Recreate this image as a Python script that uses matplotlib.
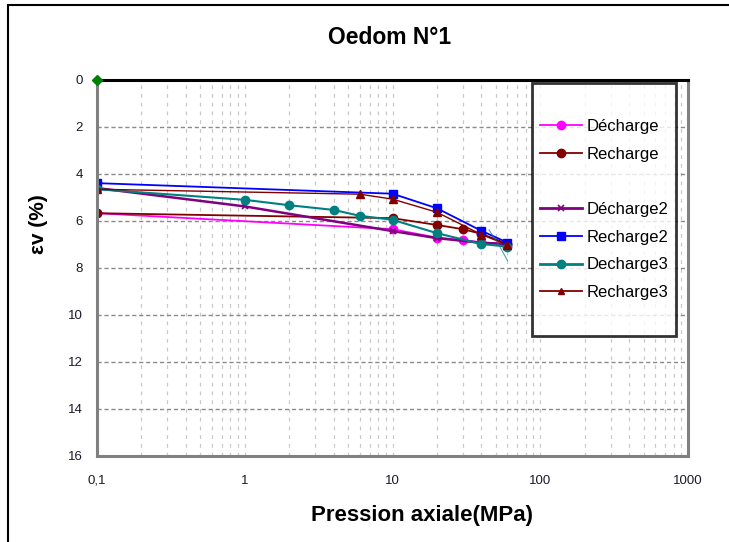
import matplotlib
matplotlib.use("Agg")
import matplotlib.pyplot as plt
from matplotlib.lines import Line2D
from matplotlib.patches import Rectangle
from matplotlib.ticker import LogLocator, NullFormatter

plt.rcParams['font.family'] = ['Liberation Sans', 'DejaVu Sans']

# Data (pressure in MPa, strain in %)
p_decharge = [0.1, 10, 20, 30, 40, 60]
ev_decharge = [5.69, 6.37, 6.73, 6.83, 6.93, 7.0]

p_recharge = [0.1, 10, 20, 30, 40, 60]
ev_recharge = [5.69, 5.9, 6.19, 6.37, 6.57, 7.0]

p_decharge2 = [0.1, 1, 10, 20, 40, 60]
ev_decharge2 = [4.62, 5.4, 6.45, 6.75, 6.95, 7.0]

p_recharge2 = [0.1, 10, 20, 40, 60]
ev_recharge2 = [4.41, 4.86, 5.48, 6.44, 6.94]

p_decharge3 = [0.1, 1, 2, 4, 6, 10, 20, 40, 60]
ev_decharge3 = [4.67, 5.12, 5.35, 5.55, 5.8, 5.97, 6.54, 7.0, 7.11]

p_recharge3 = [0.1, 6, 10, 20, 40, 60]
ev_recharge3 = [4.67, 4.88, 5.09, 5.65, 6.6, 7.04]

# stray unlabeled series
p_green = [0.1]
ev_green = [0.0]
p_stray = [45, 52, 60]
ev_stray = [6.4, 7.0, 7.7]

x_ticks = [0.1, 1, 10, 100, 1000]
x_labels = ['0,1', '1', '10', '100', '1000']
y_ticks = [0, 2, 4, 6, 8, 10, 12, 14, 16]

fig = plt.figure(figsize=(7.29, 5.42), dpi=100)
ax = fig.add_axes([97/729, 1 - 455.5/542, (688-97)/729, (455.5-79.5)/542])

ax.set_xscale('log')
ax.set_xlim(0.1, 1000)
ax.set_ylim(16, 0)

# grid
ax.xaxis.set_minor_locator(LogLocator(base=10, subs=range(2, 10)))
ax.xaxis.set_minor_formatter(NullFormatter())
ax.grid(True, which='both', axis='x', color='#c8c8c8', linestyle=(0, (3, 4)), linewidth=0.9)
ax.grid(True, which='major', axis='y', color='#8a8a8a', linestyle=(0, (3, 2)), linewidth=1.0)
ax.set_axisbelow(True)

ax.plot(p_decharge, ev_decharge, color='#FF00FF', marker='o', ms=6, lw=1.3)
ax.plot(p_recharge, ev_recharge, color='#800000', marker='o', ms=6, lw=1.3)
ax.plot(p_decharge2, ev_decharge2, color='#800080', marker='x', ms=5, mew=1.2, lw=1.8)
ax.plot(p_recharge2, ev_recharge2, color='#0000FF', marker='s', ms=5.5, lw=1.3)
ax.plot(p_decharge3, ev_decharge3, color='#008080', marker='o', ms=6, lw=1.5)
ax.plot(p_recharge3, ev_recharge3, color='#800000', marker='^', ms=5.5, lw=1.0)
ax.plot(p_green, ev_green, color='#008000', marker='D', ms=5, clip_on=False, zorder=5)
ax.plot(p_stray, ev_stray, color='#008080', lw=0.8, alpha=0.7)

# ticks
ax.set_xticks(x_ticks)
ax.set_xticklabels(x_labels)
ax.set_yticks(y_ticks)
ax.tick_params(axis='x', which='both', length=0, pad=14, labelsize=9.5, labelcolor='#1a1a2a')
ax.tick_params(axis='y', which='both', length=0, pad=10, labelsize=9.5, labelcolor='#1a1a2a')

for side in ['left', 'right', 'bottom']:
    ax.spines[side].set_color('#808080')
    ax.spines[side].set_linewidth(2.2)
ax.spines['top'].set_color('black')
ax.spines['top'].set_linewidth(2.2)

# axis titles and chart title placed where the original has them
fig.text(422/729, 1 - 515/542, 'Pression axiale(MPa)', ha='center', va='center',
         fontsize=16, fontweight='bold')
fig.text(38/729, 1 - 224/542, 'εv (%)', ha='center', va='center', rotation=90,
         fontsize=15, fontweight='bold')
fig.text(390/729, 1 - 38/542, 'Oedom N°1', ha='center', va='center', fontsize=16.5, fontweight='bold')

# legend, with blank rows as in the original
def blank():
    return Line2D([], [], color='none', label=' ')

handles = [
    blank(),
    Line2D([], [], color='#FF00FF', marker='o', ms=6, lw=1.3, label='Décharge'),
    Line2D([], [], color='#800000', marker='o', ms=6, lw=1.3, label='Recharge'),
    blank(),
    Line2D([], [], color='#800080', marker='x', ms=5, mew=1.2, lw=2.0, label='Décharge2'),
    Line2D([], [], color='#0000FF', marker='s', ms=5.5, lw=1.3, label='Recharge2'),
    Line2D([], [], color='#008080', marker='o', ms=6, lw=2.0, label='Decharge3'),
    Line2D([], [], color='#800000', marker='^', ms=5, lw=1.3, label='Recharge3'),
    blank(),
]
leg = ax.legend(handles=handles, loc='upper left', bbox_to_anchor=((532-97)/591, (455.5-83)/376),
                fontsize=12, frameon=True, fancybox=False, handlelength=2.5, handletextpad=0.25,
                labelspacing=0.76, borderpad=0.5, borderaxespad=0)
leg.get_frame().set_edgecolor('black')
leg.get_frame().set_linewidth(2.0)

# outer chart border (only top and left visible in the crop)
fig.patches.append(Rectangle((8/729, -0.1), 1.2, 1 - 5/542 + 0.1, transform=fig.transFigure,
                             fill=False, edgecolor='black', linewidth=1.5))

fig.savefig('out.png', dpi=100)
